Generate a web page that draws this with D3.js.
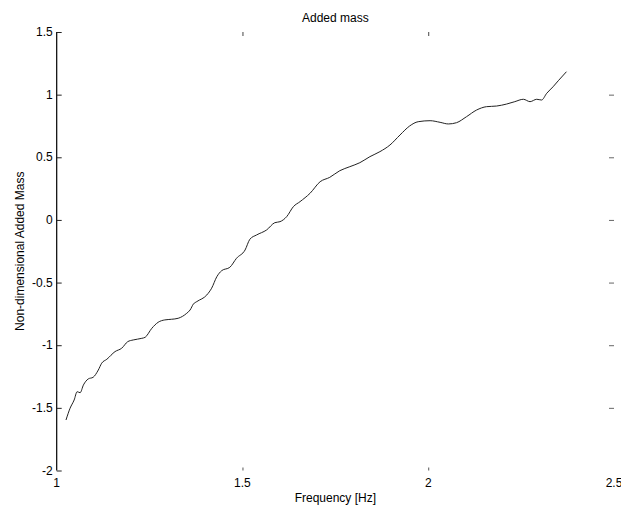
<!DOCTYPE html>
<html>
<head>
<meta charset="utf-8">
<script src="https://cdn.jsdelivr.net/npm/d3@7"></script>
<style>
  html, body { margin: 0; padding: 0; background: #fff; }
  svg { display: block; }
  text { font-family: "Liberation Sans", Arial, Helvetica, sans-serif; fill: #000; }
</style>
</head>
<body>
<svg id="chart" width="621" height="507"></svg>
<script>
const title = "Added mass";
const xLabel = "Frequency [Hz]";
const yLabel = "Non-dimensional Added Mass";
const xTicks = [1, 1.5, 2, 2.5];
const yTicks = [-2, -1.5, -1, -0.5, 0, 0.5, 1, 1.5];
const xTickLabels = ["1", "1.5", "2", "2.5"];
const yTickLabels = ["-2", "-1.5", "-1", "-0.5", "0", "0.5", "1", "1.5"];

const frequency = [1.025,1.036,1.047,1.055,1.063,1.072,1.085,1.098,1.112,1.121,1.135,1.157,1.175,1.191,1.206,1.229,1.238,1.256,1.273,1.291,1.309,1.327,1.350,1.359,1.368,1.377,1.404,1.417,1.431,1.444,1.466,1.484,1.507,1.520,1.538,1.565,1.587,1.601,1.619,1.637,1.655,1.682,1.709,1.735,1.762,1.789,1.816,1.843,1.870,1.897,1.924,1.950,1.973,2.005,2.032,2.054,2.076,2.103,2.130,2.157,2.184,2.211,2.233,2.256,2.274,2.292,2.305,2.319,2.336,2.350,2.372];
const addedMass = [-1.597,-1.503,-1.437,-1.371,-1.379,-1.317,-1.269,-1.256,-1.198,-1.144,-1.112,-1.051,-1.024,-0.972,-0.958,-0.945,-0.937,-0.865,-0.817,-0.798,-0.793,-0.785,-0.745,-0.719,-0.671,-0.652,-0.599,-0.545,-0.453,-0.405,-0.378,-0.306,-0.240,-0.154,-0.120,-0.080,-0.022,-0.014,0.026,0.106,0.146,0.213,0.305,0.340,0.393,0.425,0.457,0.505,0.545,0.598,0.678,0.750,0.784,0.792,0.779,0.766,0.776,0.824,0.877,0.904,0.909,0.925,0.944,0.963,0.944,0.963,0.957,1.011,1.063,1.111,1.183];

(function () {
const svg = d3.select("#chart");
const mL = 56.7, mR = 614, mT = 32, mB = 470.5;
const x = d3.scaleLinear().domain([1, 2.5]).range([mL, mR]);
const y = d3.scaleLinear().domain([-2, 1.5]).range([mB, mT]);
const tickLen = 5;
const fs = 12;

// Left axis (line + inward ticks)
const leftAxis = d3.axisRight(y).tickValues(yTicks).tickSize(tickLen).tickFormat("");
const gl = svg.append("g").attr("transform", `translate(${mL},0)`).call(leftAxis);
gl.select(".domain").attr("d", `M0,${mT}V${mB}`).attr("stroke", "#000").attr("stroke-width", 1.2);
gl.selectAll(".tick line").attr("stroke", "#222");

// Right ticks (inward, no line)
const rightAxis = d3.axisLeft(y).tickValues(yTicks.slice(1, -1)).tickSize(tickLen).tickFormat("");
const gr = svg.append("g").attr("transform", `translate(${mR},0)`).call(rightAxis);
gr.select(".domain").remove();
gr.selectAll(".tick line").attr("stroke", "#666");

// Bottom ticks (inward, no line)
const bottomAxis = d3.axisTop(x).tickValues(xTicks.slice(1, -1)).tickSize(3).tickFormat("");
const gb = svg.append("g").attr("transform", `translate(0,${mB})`).call(bottomAxis);
gb.select(".domain").remove();
gb.selectAll(".tick line").attr("stroke", "#555");

// Top ticks (inward, no line)
const topAxis = d3.axisBottom(x).tickValues(xTicks.slice(1, -1)).tickSize(4).tickFormat("");
const gt = svg.append("g").attr("transform", `translate(0,${mT})`).call(topAxis);
gt.select(".domain").remove();
gt.selectAll(".tick line").attr("stroke", "#444");

// Y tick labels
svg.append("g").selectAll("text").data(yTicks).join("text")
  .attr("x", mL - 4)
  .attr("y", d => y(d) + 4)
  .attr("text-anchor", "end")
  .attr("font-size", fs)
  .text((d, i) => yTickLabels[i]);

// X tick labels
svg.append("g").selectAll("text").data(xTicks).join("text")
  .attr("x", d => x(d))
  .attr("y", mB + 16.5)
  .attr("text-anchor", "middle")
  .attr("font-size", fs)
  .text((d, i) => xTickLabels[i]);

// Curve
const line = d3.line().x((d, i) => x(frequency[i])).y(d => y(d)).curve(d3.curveMonotoneX);
svg.append("path").datum(addedMass)
  .attr("d", line)
  .attr("fill", "none")
  .attr("stroke", "#222")
  .attr("stroke-width", 1);

// Title and labels
svg.append("text").attr("x", (mL + mR) / 2).attr("y", 22)
  .attr("text-anchor", "middle").attr("font-size", fs).text(title);
svg.append("text").attr("x", (mL + mR) / 2).attr("y", 502)
  .attr("text-anchor", "middle").attr("font-size", fs).text(xLabel);
svg.append("text").attr("transform", `translate(24,${(mT + mB) / 2}) rotate(-90)`)
  .attr("text-anchor", "middle").attr("font-size", fs).text(yLabel);
})();
</script>
</body>
</html>
